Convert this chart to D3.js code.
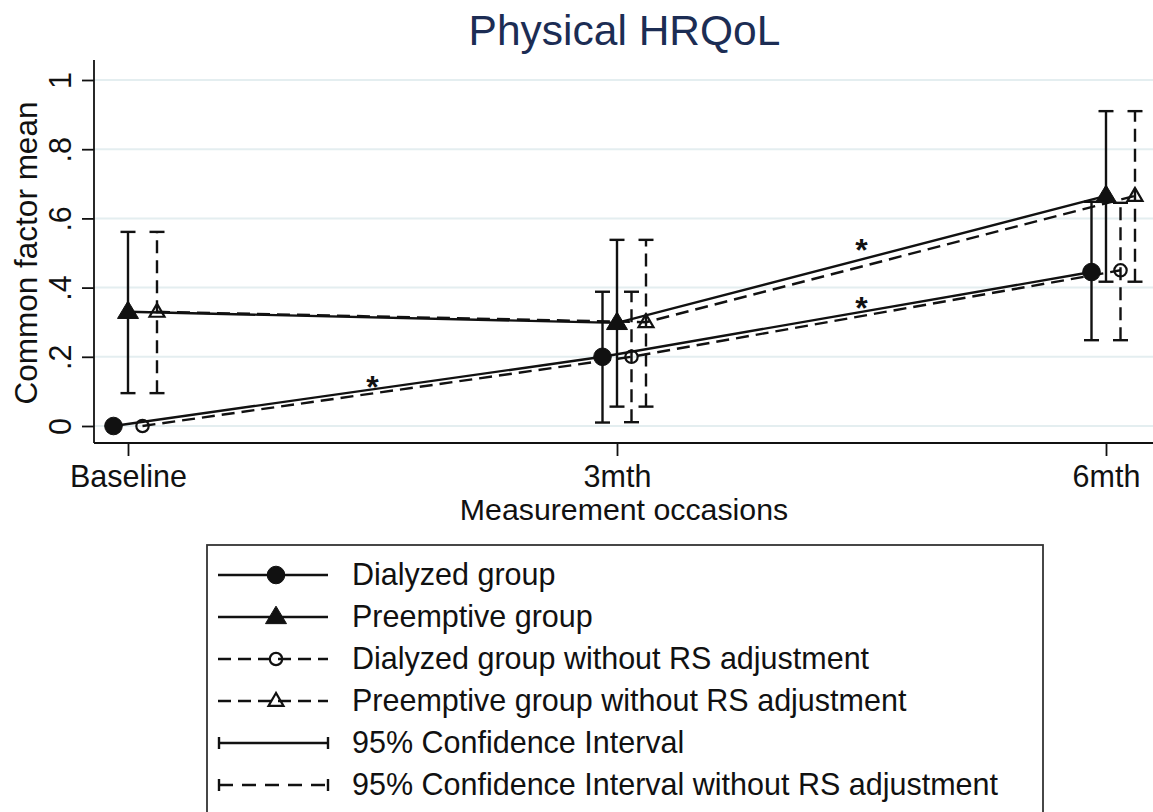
<!DOCTYPE html>
<html>
<head>
<meta charset="utf-8">
<script src="https://cdn.jsdelivr.net/npm/d3@7"></script>
<style>
  html, body { margin: 0; padding: 0; background: #fff; }
  svg text { font-family: "Liberation Sans", Arial, Helvetica, sans-serif; }
</style>
</head>
<body>
<svg id="chart" width="1153" height="812"></svg>
<script>
// ---------- data ----------
const occasions = ["Baseline", "3mth", "6mth"];
const months = [0, 3, 6];
const yTicks = [0, 0.2, 0.4, 0.6, 0.8, 1];
const yTickLabels = ["0", ".2", ".4", ".6", ".8", "1"];

const seriesNames = [
  "Dialyzed group",
  "Preemptive group",
  "Dialyzed group without RS adjustment",
  "Preemptive group without RS adjustment"
];
const dialyzed        = [0.000, 0.200, 0.445];
const preemptive      = [0.330, 0.298, 0.665];
const dialyzedNoRS    = [0.000, 0.200, 0.450];
const preemptiveNoRS  = [0.330, 0.300, 0.665];

const dialyzedLo       = [null, 0.010, 0.248];
const dialyzedHi       = [null, 0.388, 0.648];
const preemptiveLo     = [0.095, 0.056, 0.417];
const preemptiveHi     = [0.561, 0.538, 0.910];
const dialyzedNoRSLo   = [null, 0.011, 0.248];
const dialyzedNoRSHi   = [null, 0.388, 0.645];
const preemptiveNoRSLo = [0.095, 0.056, 0.417];
const preemptiveNoRSHi = [0.561, 0.538, 0.910];

const legendLabels = [
  "Dialyzed group",
  "Preemptive group",
  "Dialyzed group without RS adjustment",
  "Preemptive group without RS adjustment",
  "95% Confidence Interval",
  "95% Confidence Interval without RS adjustment"
];
// significance markers: [month, value]
const starMonths = [1.5, 4.5, 4.5];
const starValues = [0.136, 0.533, 0.366];

const titleText = "Physical HRQoL";
const xTitle = "Measurement occasions";
const yTitle = "Common factor mean";

// ---------- layout ----------
const svg = d3.select("#chart");
const FONT = 30.5;
const ink = "#111";
const LW = 2.4;
const x = d3.scaleLinear().domain([0, 6]).range([128, 1106]);
const y = d3.scaleLinear().domain([0, 1]).range([426, 80]);
const dodge = d3.scalePoint().domain(seriesNames).range([-14.5, 29]);
const plotLeft = 94, plotRight = 1153, plotTop = 60, plotBottom = 443;

const series = [
  {name: seriesNames[0], vals: dialyzed, lo: dialyzedLo, hi: dialyzedHi, dash: null, marker: "circle", filled: true},
  {name: seriesNames[1], vals: preemptive, lo: preemptiveLo, hi: preemptiveHi, dash: null, marker: "triangle", filled: true},
  {name: seriesNames[2], vals: dialyzedNoRS, lo: dialyzedNoRSLo, hi: dialyzedNoRSHi, dash: "13,7", marker: "circle", filled: false},
  {name: seriesNames[3], vals: preemptiveNoRS, lo: preemptiveNoRSLo, hi: preemptiveNoRSHi, dash: "13,7", marker: "triangle", filled: false}
];

// title
svg.append("text").attr("x", 624.5).attr("y", 45).attr("text-anchor", "middle")
  .attr("font-size", 42.5).attr("fill", "#1c2d54").text(titleText);

// gridlines
svg.append("g").selectAll("line").data(yTicks).join("line")
  .attr("x1", plotLeft).attr("x2", plotRight)
  .attr("y1", d => y(d)).attr("y2", d => y(d))
  .attr("stroke", "#e4eef0").attr("stroke-width", 2);

// y axis
const yAxis = d3.axisLeft(y).tickValues(yTicks).tickFormat((d, i) => yTickLabels[i]).tickSize(12).tickSizeOuter(0);
const gy = svg.append("g").attr("transform", `translate(${plotLeft},0)`).call(yAxis);
gy.select(".domain").remove();
gy.selectAll(".tick line").attr("stroke", ink).attr("stroke-width", 1.8);
gy.selectAll(".tick text").attr("font-size", FONT).attr("fill", ink)
  .attr("text-anchor", "middle").attr("x", 0).attr("y", 0).attr("dy", null)
  .attr("transform", "translate(-23,0) rotate(-90)");
svg.append("line").attr("x1", plotLeft).attr("x2", plotLeft).attr("y1", plotTop).attr("y2", plotBottom)
  .attr("stroke", ink).attr("stroke-width", 1.8);

// x axis
const xAxis = d3.axisBottom(x).tickValues(months).tickFormat((d, i) => occasions[i]).tickSize(13).tickSizeOuter(0);
const gx = svg.append("g").attr("transform", `translate(0,${plotBottom})`).call(xAxis);
gx.select(".domain").remove();
gx.selectAll(".tick line").attr("stroke", ink).attr("stroke-width", 1.8);
gx.selectAll(".tick text").attr("font-size", FONT).attr("fill", ink).attr("y", 44).attr("dy", null);
svg.append("line").attr("x1", plotLeft).attr("x2", plotRight).attr("y1", plotBottom).attr("y2", plotBottom)
  .attr("stroke", ink).attr("stroke-width", 1.8);

// axis titles
svg.append("text").attr("x", 624).attr("y", 520).attr("text-anchor", "middle")
  .attr("font-size", 30.3).attr("fill", ink).text(xTitle);
svg.append("text").attr("transform", `translate(37,${(y(0) + y(1)) / 2}) rotate(-90)`)
  .attr("text-anchor", "middle").attr("font-size", 31.5).attr("fill", ink).text(yTitle);

// lines
const plotG = svg.append("g");
series.forEach(s => {
  const pts = s.vals.map((v, i) => [x(months[i]) + dodge(s.name), y(v)]);
  plotG.append("path").attr("d", d3.line()(pts)).attr("fill", "none")
    .attr("stroke", ink).attr("stroke-width", LW)
    .attr("stroke-dasharray", s.dash);
});

// confidence intervals
series.forEach(s => {
  s.vals.forEach((v, i) => {
    if (s.lo[i] == null) return;
    const cx = x(months[i]) + dodge(s.name);
    const g = plotG.append("g").attr("stroke", ink).attr("stroke-width", LW);
    g.append("line").attr("x1", cx).attr("x2", cx).attr("y1", y(s.lo[i])).attr("y2", y(s.hi[i]))
      .attr("stroke-dasharray", s.dash);
    [s.lo[i], s.hi[i]].forEach(b => {
      g.append("line").attr("x1", cx - 7.5).attr("x2", cx + 7.5).attr("y1", y(b)).attr("y2", y(b));
    });
  });
});

// markers
function drawMarker(g, type, filled, cx, cy) {
  if (type === "circle") {
    const r = filled ? 8.8 : 6.2;
    g.append("circle").attr("cx", cx).attr("cy", cy).attr("r", r)
      .attr("fill", filled ? ink : "none").attr("stroke", ink).attr("stroke-width", filled ? 1 : 2.2);
  } else {
    const w = filled ? 10.5 : 7.5, h = filled ? 17.5 : 13;
    const pts = [[cx, cy - h * 0.62], [cx - w, cy + h * 0.38], [cx + w, cy + h * 0.38]];
    g.append("path").attr("d", d3.line()(pts) + "Z")
      .attr("fill", filled ? ink : "none").attr("stroke", ink).attr("stroke-width", filled ? 1 : 2.2)
      .attr("stroke-linejoin", "miter");
  }
}
series.forEach(s => {
  s.vals.forEach((v, i) => {
    drawMarker(plotG, s.marker, s.filled, x(months[i]) + dodge(s.name), y(v));
  });
});

// stars
svg.append("g").selectAll("text").data(starMonths).join("text")
  .attr("x", (d) => x(d)).attr("y", (d, i) => y(starValues[i]))
  .attr("dy", "0.6em").attr("text-anchor", "middle")
  .attr("font-size", 32).attr("font-weight", "bold").attr("fill", ink).text("*");

// legend
const lg = svg.append("g");
lg.append("rect").attr("x", 207).attr("y", 545).attr("width", 836).attr("height", 300)
  .attr("fill", "#fff").attr("stroke", "#333").attr("stroke-width", 1.8);
const rowY = d3.scaleLinear().domain([0, 5]).range([585, 795]);
legendLabels.forEach((lab, i) => {
  const by = rowY(i), cy = by - 10;
  lg.append("text").attr("x", 352).attr("y", by).attr("font-size", FONT).attr("fill", ink).text(lab);
  if (i < 4) {
    const s = series[i];
    lg.append("line").attr("x1", 218).attr("x2", 328).attr("y1", cy).attr("y2", cy)
      .attr("stroke", ink).attr("stroke-width", LW).attr("stroke-dasharray", s.dash ? "13,7" : null);
    drawMarker(lg, s.marker, s.filled, 276, cy);
  } else {
    const dash = i === 5 ? "14,9" : null;
    lg.append("line").attr("x1", 219).attr("x2", 328).attr("y1", cy).attr("y2", cy)
      .attr("stroke", ink).attr("stroke-width", LW).attr("stroke-dasharray", dash);
    [219, 328].forEach(ex => {
      lg.append("line").attr("x1", ex).attr("x2", ex).attr("y1", cy - 6).attr("y2", cy + 6)
        .attr("stroke", ink).attr("stroke-width", LW);
    });
  }
});
</script>
</body>
</html>
